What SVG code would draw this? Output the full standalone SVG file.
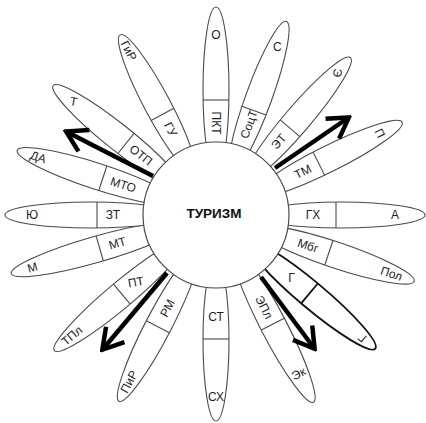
<svg xmlns="http://www.w3.org/2000/svg" width="426" height="423" viewBox="0 0 426 423">
<style>
.pt ellipse{fill:#fff;stroke:#4a4a4a;stroke-width:1.1}
.pt line{stroke:#4a4a4a;stroke-width:1.1}
.pt text{font-family:"Liberation Sans",Arial,sans-serif;font-size:12px;fill:#1e1e1e;text-anchor:middle;dominant-baseline:central}
.hub{fill:#fff;stroke:#4a4a4a;stroke-width:1.2}
.ttl{font-family:"Liberation Sans",Arial,sans-serif;font-size:13.5px;font-weight:bold;fill:#111;text-anchor:middle;dominant-baseline:central}
.ar{stroke:#000;stroke-width:4.5;fill:none;marker-end:url(#ah)}
#p7 ellipse,#p7 line{stroke:#111;stroke-width:1.8}
</style>
<defs>
<marker id="ah" viewBox="0 0 26 28" refX="22" refY="14" markerWidth="26" markerHeight="28" markerUnits="userSpaceOnUse" orient="auto">
<path d="M3,2 L23,14 L3,26" fill="none" stroke="#000" stroke-width="4.5" stroke-linejoin="miter"/>
</marker>
</defs>
<rect width="426" height="423" fill="#fff"/>
<g id="petals">
<g id="p1" class="pt" transform="rotate(-90 216 215)"><ellipse cx="341" cy="215" rx="83" ry="13"/><line x1="331" y1="202.1" x2="331" y2="227.9"/><text transform="rotate(180 308 215)" x="308" y="215">ПКТ</text><text transform="rotate(90 396 215)" x="396" y="215">О</text></g>
<g id="p2" class="pt" transform="rotate(-70 216 215)"><ellipse cx="341" cy="215" rx="81" ry="13"/><line x1="327" y1="202.1" x2="327" y2="227.9"/><text x="312.5" y="215">СоцТ</text><text transform="rotate(70 395 215)" x="395" y="215">С</text></g>
<g id="p3" class="pt" transform="rotate(-49.5 216 215)"><ellipse cx="341" cy="215" rx="82" ry="13"/><line x1="330" y1="202.1" x2="330" y2="227.9"/><text x="312.5" y="215">ЭТ</text><text transform="rotate(144.5 403 215)" x="403" y="215">Э</text></g>
<g id="p4" class="pt" transform="rotate(-26.5 216 215)"><ellipse cx="341" cy="215" rx="83" ry="13"/><line x1="331" y1="202.1" x2="331" y2="227.9"/><text x="313" y="215">ТМ</text><text transform="rotate(90 399 215)" x="399" y="215">П</text></g>
<g id="p5" class="pt"><ellipse cx="341" cy="215" rx="84" ry="13"/><line x1="336" y1="202.1" x2="336" y2="227.9"/><text x="313" y="215">ГХ</text><text x="395" y="215">А</text></g>
<g id="p6" class="pt" transform="rotate(18.5 216 215)"><ellipse cx="341" cy="215" rx="84" ry="13"/><line x1="335" y1="202.1" x2="335" y2="227.9"/><text x="313" y="215">Мбг</text><text x="401" y="215">Пол</text></g>
<g id="p7" class="pt" transform="rotate(40 216 215)"><ellipse cx="341" cy="215" rx="83" ry="13"/><line x1="338" y1="202.1" x2="338" y2="227.9"/><text transform="rotate(-40 314.5 215)" x="314.5" y="215">Г</text><text transform="rotate(180 407 215)" x="407" y="215">Г</text></g>
<g id="p8" class="pt" transform="rotate(62.5 216 215)"><ellipse cx="341" cy="215" rx="86" ry="13"/><line x1="339" y1="202.1" x2="339" y2="227.9"/><text x="320" y="215">ЭПл</text><text transform="rotate(-90 395 215)" x="395" y="215">Эк</text></g>
<g id="p9" class="pt" transform="rotate(90 216 215)"><ellipse cx="341" cy="215" rx="81" ry="13"/><line x1="340" y1="202.1" x2="340" y2="227.9"/><text transform="rotate(-90 318 215)" x="318" y="215">СТ</text><text transform="rotate(-90 398 215)" x="398" y="215">СХ</text></g>
<g id="p10" class="pt" transform="rotate(117.5 216 215)"><ellipse cx="341" cy="215" rx="85" ry="13"/><line x1="342" y1="202.1" x2="342" y2="227.9"/><text transform="rotate(180 321 215)" x="321" y="215">РМ</text><text transform="rotate(180 404 215)" x="404" y="215">ПиР</text></g>
<g id="p11" class="pt" transform="rotate(140 216 215)"><ellipse cx="341" cy="215" rx="86" ry="13"/><line x1="339" y1="202.1" x2="339" y2="227.9"/><text transform="rotate(-150 320.5 215)" x="320.5" y="215">ПТ</text><text transform="rotate(180 404 215)" x="404" y="215">ТПл</text></g>
<g id="p12" class="pt" transform="rotate(164 216 215)"><ellipse cx="341" cy="215" rx="88" ry="13"/><line x1="337" y1="202.1" x2="337" y2="227.9"/><text transform="rotate(180 318.5 215)" x="318.5" y="215">МТ</text><text transform="rotate(180 407 215)" x="407" y="215">М</text></g>
<g id="p13" class="pt" transform="rotate(180 216 215)"><ellipse cx="341" cy="215" rx="86" ry="13"/><line x1="335" y1="202.1" x2="335" y2="227.9"/><text transform="rotate(180 319 215)" x="319" y="215">ЗТ</text><text transform="rotate(180 400 215)" x="400" y="215">Ю</text></g>
<g id="p14" class="pt" transform="rotate(198 216 215)"><ellipse cx="341" cy="215" rx="84" ry="13"/><line x1="335" y1="202.1" x2="335" y2="227.9"/><text transform="rotate(180 313.5 215)" x="313.5" y="215">МТО</text><text transform="rotate(180 403 215)" x="403" y="215">ДА</text></g>
<g id="p15" class="pt" transform="rotate(218.5 216 215)"><ellipse cx="341" cy="215" rx="83" ry="13"/><line x1="331" y1="202.1" x2="331" y2="227.9"/><text transform="rotate(180 312 215)" x="312" y="215">ОТП</text><text transform="rotate(-208.5 398 215)" x="398" y="215">Т</text></g>
<g id="p16" class="pt" transform="rotate(242 216 215)"><ellipse cx="341" cy="215" rx="79" ry="13"/><line x1="330" y1="202.1" x2="330" y2="227.9"/><text transform="rotate(180 313 215)" x="313" y="215">ГУ</text><text transform="rotate(180 402 215)" x="402" y="215">ГиР</text></g>
</g>
<g id="hub"><circle class="hub" cx="216" cy="215" r="73"/><text class="ttl" x="214" y="213">ТУРИЗМ</text></g>
<g id="connectors">
<line class="ar" x1="153" y1="176" x2="67" y2="132"/>
<line class="ar" x1="275" y1="168" x2="348" y2="118"/>
<line class="ar" x1="261" y1="277" x2="314" y2="348"/>
<line class="ar" x1="167" y1="273" x2="103" y2="349"/>
</g>
</svg>
